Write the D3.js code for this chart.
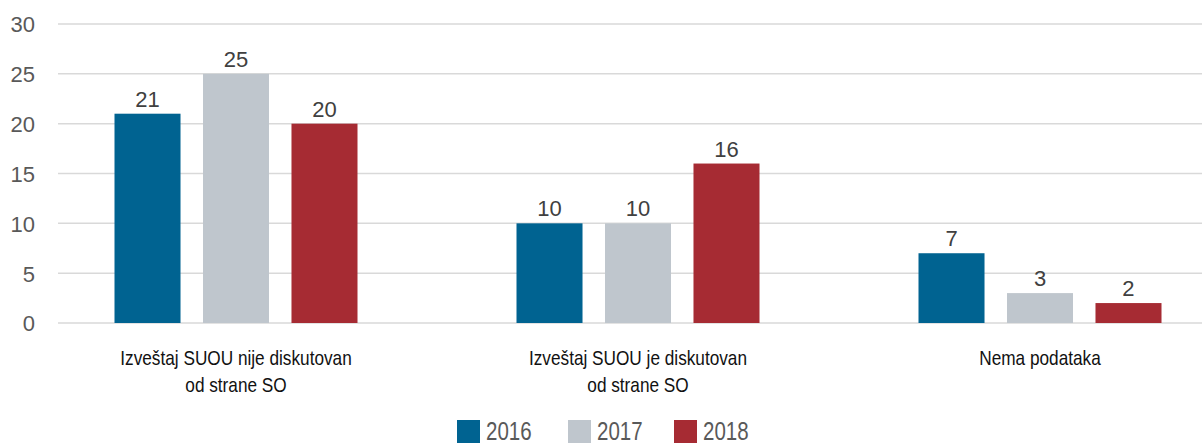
<!DOCTYPE html>
<html lang="sr">
<head>
    <meta charset="UTF-8">
    <title>SUOU izveštaj</title>
    <script src="https://d3js.org/d3.v7.min.js"></script>
    <style>
        body { margin: 0; background: #fff; }
        svg { display: block; }
    </style>
</head>
<body>
    <svg width="1202" height="446"></svg>
    <script>
        const categories = [
            ['Izveštaj SUOU nije diskutovan', 'od strane SO'],
            ['Izveštaj SUOU je diskutovan', 'od strane SO'],
            ['Nema podataka']
        ];
        const years = ['2016', '2017', '2018'];
        const values2016 = [21, 10, 7];
        const values2017 = [25, 10, 3];
        const values2018 = [20, 16, 2];
        const yTicks = [0, 5, 10, 15, 20, 25, 30];
        const colors = ['#006391', '#bfc6cd', '#a62b33'];

        const series = [values2016, values2017, values2018];
        const svg = d3.select('svg');
        const squeeze = 0.82; // the original image looks squashed horizontally for these texts

        const gridLeft = 58, gridRight = 1202;
        const y = d3.scaleLinear().domain([0, 30]).range([323, 24]);
        const x0 = d3.scaleBand().domain(d3.range(categories.length)).range([35, 1241]).padding(0);
        const x1 = d3.scaleBand().domain(years).range([-121.5, 121.5]).paddingInner(0.254).paddingOuter(0);
        const color = d3.scaleOrdinal().domain(years).range(colors);

        // gridlines
        svg.append('g')
            .selectAll('line')
            .data(yTicks)
            .join('line')
            .attr('x1', gridLeft).attr('x2', gridRight)
            .attr('y1', d => y(d)).attr('y2', d => y(d))
            .attr('stroke', '#d9d9d9')
            .attr('stroke-width', 1.5);

        // y axis labels
        const yAxis = d3.axisLeft(y).tickValues(yTicks).tickSize(0).tickPadding(0);
        const ya = svg.append('g').attr('transform', 'translate(35,0)').call(yAxis);
        ya.select('.domain').remove();
        ya.selectAll('text')
            .attr('font-family', 'Liberation Sans, Arial, sans-serif')
            .attr('font-size', 22)
            .attr('fill', '#595959')
            .attr('dy', '0.36em');

        // bars
        const groups = svg.append('g')
            .selectAll('g')
            .data(categories.map((c, i) => i))
            .join('g')
            .attr('transform', i => `translate(${x0(i) + x0.bandwidth() / 2},0)`);

        groups.selectAll('rect')
            .data(i => years.map((yr, k) => ({ yr, v: series[k][i] })))
            .join('rect')
            .attr('x', d => x1(d.yr))
            .attr('width', x1.bandwidth())
            .attr('y', d => y(d.v))
            .attr('height', d => y(0) - y(d.v))
            .attr('fill', d => color(d.yr));

        groups.selectAll('text.val')
            .data(i => years.map((yr, k) => ({ yr, v: series[k][i] })))
            .join('text')
            .attr('class', 'val')
            .attr('x', d => x1(d.yr) + x1.bandwidth() / 2)
            .attr('y', d => y(d.v) - 7)
            .attr('text-anchor', 'middle')
            .attr('font-family', 'Liberation Sans, Arial, sans-serif')
            .attr('font-size', 22)
            .attr('fill', '#404040')
            .text(d => d.v);

        // category labels
        groups.append('text')
            .attr('text-anchor', 'middle')
            .attr('transform', `scale(${squeeze},1)`)
            .attr('font-family', 'Liberation Sans, Arial, sans-serif')
            .attr('font-size', 21)
            .attr('fill', '#111')
            .selectAll('tspan')
            .data(i => categories[i])
            .join('tspan')
            .attr('x', 0)
            .attr('y', (d, k) => 365 + k * 27)
            .text(d => d);

        // legend (kept just inside the bottom edge)
        const legendX = [457, 568, 674];
        const legend = svg.append('g')
            .selectAll('g')
            .data(years)
            .join('g')
            .attr('transform', (d, i) => `translate(${legendX[i]},420)`);
        legend.append('rect')
            .attr('width', 23).attr('height', 23)
            .attr('fill', d => color(d));
        legend.append('text')
            .attr('transform', `translate(29,0) scale(${squeeze},1)`)
            .attr('y', 20)
            .attr('font-family', 'Liberation Sans, Arial, sans-serif')
            .attr('font-size', 25)
            .attr('fill', '#595959')
            .text(d => d);
    </script>
</body>
</html>
